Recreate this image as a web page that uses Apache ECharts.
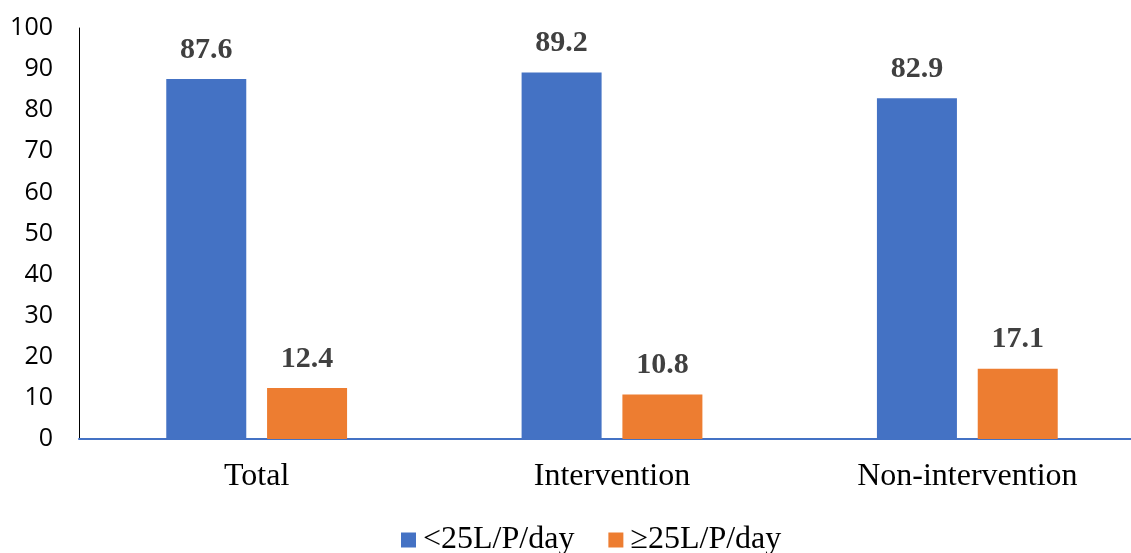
<!DOCTYPE html>
<html><head><meta charset="utf-8">
<script src="https://cdn.jsdelivr.net/npm/echarts@6/dist/echarts.min.js"></script>
<style>html,body{margin:0;padding:0;background:#fff}#c{width:1131px;height:553px}</style>
</head><body><div id="c"></div>
<script>
const categories = ['Total', 'Intervention', 'Non-intervention'];
const seriesNames = ['<25L/P/day', '\u226525L/P/day'];
const below25 = [87.6, 89.2, 82.9];
const above25 = [12.4, 10.8, 17.1];
const yTicks = [0, 10, 20, 30, 40, 50, 60, 70, 80, 90, 100];

const chart = echarts.init(document.getElementById('c'));
const labelStyle = {
  show: true, position: 'top', distance: 14,
  fontFamily: 'Liberation Serif', fontWeight: 'bold', fontSize: 30, color: '#404040',
  formatter: p => p.value.toFixed(1)
};
chart.setOption({
  animation: false,
  grid: { left: 79, width: 1066, top: 28, bottom: 114, outerBoundsMode: 'none', containLabel: false },
  legend: {
    top: 519, left: 396, itemWidth: 15, itemHeight: 15, itemGap: 34,
    icon: 'rect',
    textStyle: { fontFamily: 'Liberation Serif', fontSize: 32, color: '#000', padding: [0, 0, 0, 2] },
    data: seriesNames
  },
  xAxis: {
    type: 'category', data: categories,
    axisLine: { lineStyle: { color: '#4472C4', width: 2 } },
    axisTick: { show: false },
    axisLabel: { fontFamily: 'Liberation Serif', fontSize: 32, color: '#000', margin: 22 }
  },
  yAxis: {
    type: 'value', min: yTicks[0], max: yTicks[yTicks.length - 1], interval: 10,
    axisLine: { show: true, lineStyle: { color: '#000', width: 1 } },
    axisTick: { show: false },
    splitLine: { show: false },
    axisLabel: { fontFamily: 'Open Sans', fontSize: 25, color: '#000', margin: 26 }
  },
  series: [
    { name: seriesNames[0], type: 'bar', data: below25, barWidth: 80, barGap: '26%',
      itemStyle: { color: '#4472C4' }, label: labelStyle },
    { name: seriesNames[1], type: 'bar', data: above25, barWidth: 80,
      itemStyle: { color: '#ED7D31' }, label: labelStyle }
  ]
});
</script></body></html>
